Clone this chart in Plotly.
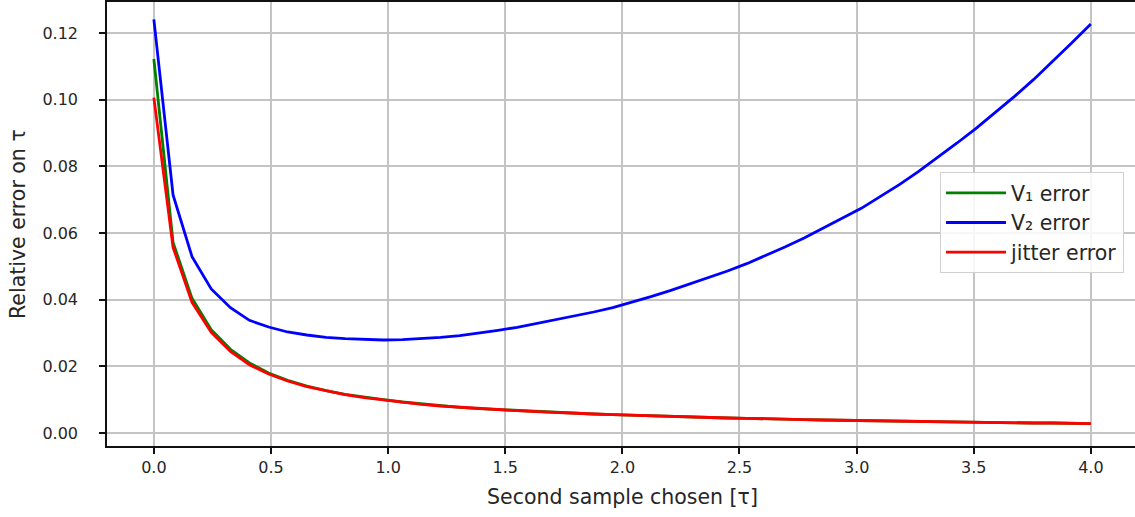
import plotly.graph_objects as go

x_vals = [0.000, 0.082, 0.163, 0.245, 0.327, 0.408, 0.490, 0.571, 0.653, 0.735,
          0.816, 0.898, 0.980, 1.061, 1.143, 1.224, 1.306, 1.388, 1.469, 1.551,
          1.633, 1.714, 1.796, 1.878, 1.959, 2.041, 2.122, 2.204, 2.286, 2.367,
          2.449, 2.531, 2.612, 2.694, 2.776, 2.857, 2.939, 3.020, 3.102, 3.184,
          3.265, 3.347, 3.429, 3.510, 3.592, 3.673, 3.755, 3.837, 3.918, 4.000]

v1_error = [0.1122, 0.0572, 0.0404, 0.0310, 0.0251, 0.0210, 0.0180, 0.0158, 0.0141, 0.0127,
            0.0116, 0.0107, 0.0100, 0.0093, 0.0087, 0.0082, 0.0077, 0.0073, 0.0070, 0.0067,
            0.0064, 0.0061, 0.0059, 0.0057, 0.0055, 0.0053, 0.0051, 0.0049, 0.0048, 0.0046,
            0.0045, 0.0044, 0.0042, 0.0041, 0.0040, 0.0039, 0.0038, 0.0037, 0.0036, 0.0035,
            0.0035, 0.0034, 0.0033, 0.0032, 0.0032, 0.0031, 0.0030, 0.0030, 0.0029, 0.0028]

v2_error = [0.1241, 0.0714, 0.0529, 0.0432, 0.0376, 0.0338, 0.0318, 0.0303, 0.0294, 0.0287,
            0.0283, 0.0280, 0.0279, 0.0280, 0.0283, 0.0287, 0.0292, 0.0299, 0.0308, 0.0317,
            0.0328, 0.0340, 0.0352, 0.0363, 0.0376, 0.0392, 0.0409, 0.0427, 0.0446, 0.0465,
            0.0486, 0.0508, 0.0532, 0.0558, 0.0585, 0.0614, 0.0643, 0.0674, 0.0710, 0.0746,
            0.0785, 0.0827, 0.0870, 0.0914, 0.0961, 0.1009, 0.1060, 0.1114, 0.1170, 0.1227]

jitter_error = [0.1006, 0.0557, 0.0392, 0.0302, 0.0245, 0.0205, 0.0177, 0.0156, 0.0139, 0.0126,
                0.0115, 0.0106, 0.0099, 0.0092, 0.0086, 0.0081, 0.0077, 0.0073, 0.0070, 0.0067,
                0.0064, 0.0061, 0.0059, 0.0057, 0.0055, 0.0053, 0.0051, 0.0049, 0.0048, 0.0046,
                0.0045, 0.0044, 0.0042, 0.0041, 0.0040, 0.0039, 0.0038, 0.0037, 0.0036, 0.0035,
                0.0035, 0.0034, 0.0033, 0.0032, 0.0032, 0.0031, 0.0030, 0.0030, 0.0029, 0.0028]

x_ticks = [0.0, 0.5, 1.0, 1.5, 2.0, 2.5, 3.0, 3.5, 4.0]
x_tick_labels = ["0.0", "0.5", "1.0", "1.5", "2.0", "2.5", "3.0", "3.5", "4.0"]
y_ticks = [0.00, 0.02, 0.04, 0.06, 0.08, 0.10, 0.12]
y_tick_labels = ["0.00", "0.02", "0.04", "0.06", "0.08", "0.10", "0.12"]

series_names = ["V\u2081 error", "V\u2082 error", "jitter error"]
series_colors = ["#008000", "#0000ff", "#ff0000"]

FONT = "DejaVu Sans"

fig = go.Figure()
for name, ys, col in zip(series_names, [v1_error, v2_error, jitter_error], series_colors):
    fig.add_trace(go.Scatter(x=x_vals, y=ys, mode="lines", name=name,
                             line=dict(color=col, width=2.8)))

axis_common = dict(
    showline=True, linecolor="#111111", linewidth=1.5,
    showgrid=True, gridcolor="#c4c4c4", gridwidth=1.6,
    zeroline=False, ticks="outside", ticklen=6, tickwidth=1.5, tickcolor="#111111",
    tickfont=dict(family=FONT, size=16, color="#262626"),
    automargin=False,
)

# The reference is cropped on the right: the figure is wider than the window
# so the axes run off the right edge, as in the original.
fig.update_layout(
    width=1150, height=517,
    margin=dict(l=107, r=0, t=2, b=71),
    paper_bgcolor="white", plot_bgcolor="white",
    font=dict(family=FONT, color="#262626"),
    xaxis=dict(range=[-0.2, 4.2525], tickvals=x_ticks, ticktext=x_tick_labels,
               mirror=True, ticklabelstandoff=0, **axis_common),
    yaxis=dict(range=[-0.0039, 0.1293], tickvals=y_ticks, ticktext=y_tick_labels,
               ticklabelstandoff=18, **axis_common),
    legend=dict(x=(940 - 107) / 1043, y=(446 - 172) / 444, xanchor="left", yanchor="top",
                bgcolor="rgba(255,255,255,0.85)", bordercolor="#d0d0d0", borderwidth=1,
                font=dict(family=FONT, size=20.5, color="#262626"),
                itemwidth=60, tracegroupgap=0),
    showlegend=True,
    annotations=[
        dict(text="Second sample chosen [\u03c4]", xref="x", yref="paper",
             x=2.0, y=0, xanchor="center", yanchor="middle", yshift=-51,
             showarrow=False, font=dict(family=FONT, size=20.5, color="#262626")),
        dict(text="Relative error on \u03c4", xref="paper", yref="paper",
             x=0, y=0.5, xanchor="center", yanchor="middle", xshift=-89,
             textangle=-90, showarrow=False,
             font=dict(family=FONT, size=20.5, color="#262626")),
    ],
)

fig.write_html("out.html",
               config={"displayModeBar": False},
               post_script="document.body.style.margin='0';document.documentElement.style.overflow='hidden';document.body.style.overflow='hidden';")
